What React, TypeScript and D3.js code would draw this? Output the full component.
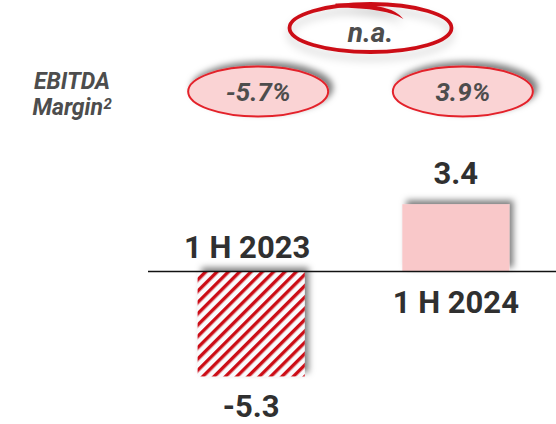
import * as d3 from "d3";

const periods = ["1 H 2023", "1 H 2024"];
const ebitda = [-5.3, 3.4];
const margins = ["-5.7%", "3.9%"];
const marginChange = "n.a.";
const rowLabel = ["EBITDA", "Margin"];

const WIDTH = 556;
const HEIGHT = 424;
const ZERO = 271.5;
const UNIT = 19.8;

const App = () => {
  const x = d3.scaleBand<string>().domain(periods).range([100, 607]).padding(0.477);
  const y = d3.scaleLinear().domain([-6, 4]).range([ZERO + 6 * UNIT, ZERO - 4 * UNIT]);
  const fmt = d3.formatLocale({ decimal: ".", thousands: ",", grouping: [3], currency: ["", ""], minus: "-" }).format(".1f");
  const bw = x.bandwidth();
  const cx = (p: string) => (x(p) ?? 0) + bw / 2;
  const midX = (cx(periods[0]) + cx(periods[1])) / 2;

  return (
    <svg
      width={WIDTH}
      height={HEIGHT}
      style={{ position: "absolute", left: 0, top: 0, fontFamily: "Roboto, sans-serif" }}
    >
      <defs>
        <pattern id="hatch" width={8} height={8} patternUnits="userSpaceOnUse" patternTransform="rotate(45)">
          <rect width={8} height={8} fill="#f9fbfd" />
          <rect width={3.4} height={8} fill="#cc0f18" />
        </pattern>
        <filter id="shadow" x="-20%" y="-30%" width="140%" height="160%">
          <feDropShadow dx={4} dy={-4} stdDeviation={3} floodColor="#000" floodOpacity={0.5} />
        </filter>
        <filter id="softshadow" x="-20%" y="-30%" width="140%" height="170%">
          <feDropShadow dx={0} dy={6} stdDeviation={4} floodColor="#000" floodOpacity={0.2} />
        </filter>
      </defs>

      {/* margin change callout */}
      <g filter="url(#softshadow)">
        <ellipse cx={midX + 17} cy={28} rx={81} ry={24} fill="none" stroke="#cc0f18" strokeWidth={3.8} />
        <path
          d={`M${midX - 18},3.5 Q${midX + 38},2 ${midX + 50},19 Q${midX + 34},8 ${midX - 18},7.5 Z`}
          fill="#cc0f18"
        />
      </g>
      <text
        x={midX + 17}
        y={42}
        textAnchor="middle"
        fontSize={28}
        fontWeight="bold"
        fontStyle="italic"
        fill="#4d4d4d"
      >
        {marginChange}
      </text>

      {/* row label */}
      <g fontSize={23} fontWeight="bold" fontStyle="italic" fill="#4d4d4d">
        <text x={72} y={88.5} textAnchor="middle">
          {rowLabel[0]}
        </text>
        <text x={103} y={115} textAnchor="end">
          {rowLabel[1]}
        </text>
        <text x={103.5} y={108.5} fontSize={15}>
          2
        </text>
      </g>

      {/* margin ellipses */}
      {periods.map((p, i) => (
        <g key={p}>
          <ellipse
            cx={cx(p) + 7}
            cy={91.5}
            rx={70}
            ry={25}
            fill="#fad3d4"
            stroke="#e3232c"
            strokeWidth={2}
            filter="url(#shadow)"
          />
          <text
            x={cx(p) + 7}
            y={100.5}
            textAnchor="middle"
            fontSize={26}
            fontWeight="bold"
            fontStyle="italic"
            fill="#4d4d4d"
          >
            {margins[i]}
          </text>
        </g>
      ))}

      {/* bars */}
      {periods.map((p, i) => {
        const v = ebitda[i];
        const top = y(Math.max(0, v));
        const h = Math.abs(y(v) - y(0));
        return (
          <rect
            key={p}
            x={x(p)}
            y={top}
            width={bw}
            height={h}
            fill={v < 0 ? "url(#hatch)" : "#f9c8c9"}
            filter="url(#shadow)"
          />
        );
      })}

      <line x1={148} x2={WIDTH} y1={y(0)} y2={y(0)} stroke="#111" strokeWidth={1.5} />

      {/* labels */}
      {periods.map((p, i) => {
        const v = ebitda[i];
        const neg = v < 0;
        return (
          <g key={p} fill="#303030" fontWeight="bold" fontSize={31} textAnchor="middle">
            <text x={cx(p) - (neg ? 4 : 0)} y={neg ? y(0) - 13.5 : y(0) + 41.5}>
              {p}
            </text>
            <text x={cx(p)} y={neg ? y(v) + 41 : y(v) - 20}>
              {fmt(v)}
            </text>
          </g>
        );
      })}
    </svg>
  );
};

export default App;
